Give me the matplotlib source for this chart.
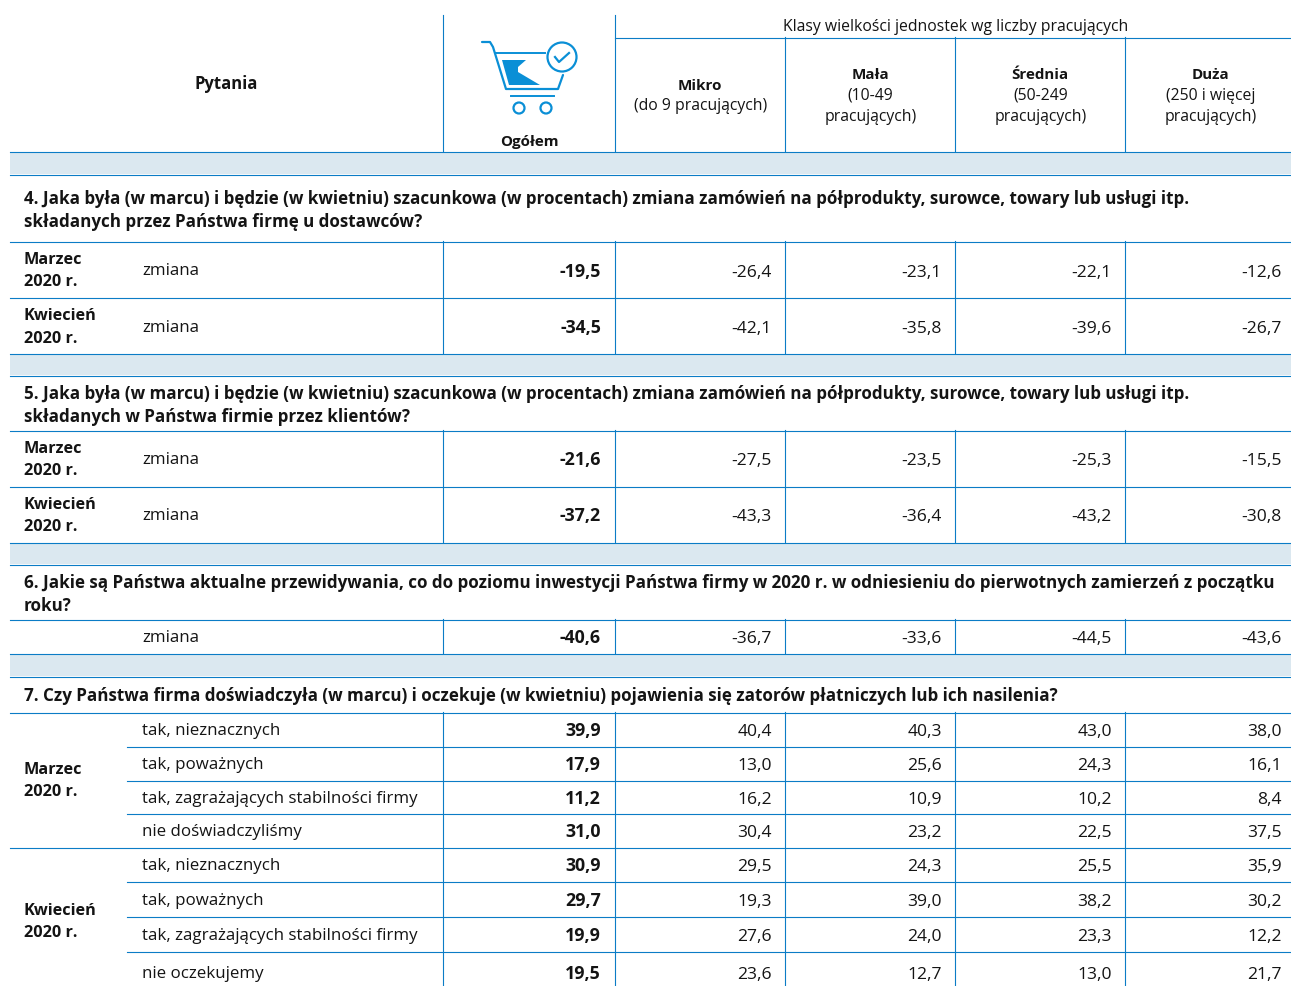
import matplotlib
matplotlib.use('Agg')
import matplotlib.pyplot as plt
import matplotlib.patches as mpatches

plt.rcParams['font.family'] = ['Open Sans', 'DejaVu Sans']

LINE = '#0b7cc6'
BAND = '#dbe8f0'
TXT = '#141414'

# data
size_heads = ['Mikro', 'Mała', 'Średnia', 'Duża']
size_subs = [['(do 9 pracujących)'], ['(10-49', 'pracujących)'], ['(50-249', 'pracujących)'], ['(250 i więcej', 'pracujących)']]

q4 = ['4. Jaka była (w marcu) i będzie (w kwietniu) szacunkowa (w procentach) zmiana zamówień na półprodukty, surowce, towary lub usługi itp.',
      'składanych przez Państwa firmę u dostawców?']
q5 = ['5. Jaka była (w marcu) i będzie (w kwietniu) szacunkowa (w procentach) zmiana zamówień na półprodukty, surowce, towary lub usługi itp.',
      'składanych w Państwa firmie przez klientów?']
q6 = ['6. Jakie są Państwa aktualne przewidywania, co do poziomu inwestycji Państwa firmy w 2020 r. w odniesieniu do pierwotnych zamierzeń z początku',
      'roku?']
q7 = ['7. Czy Państwa firma doświadczyła (w marcu) i oczekuje (w kwietniu) pojawienia się zatorów płatniczych lub ich nasilenia?']

row_labels = ['zmiana', 'zmiana', 'zmiana', 'zmiana', 'zmiana',
              'tak, nieznacznych', 'tak, poważnych', 'tak, zagrażających stabilności firmy', 'nie doświadczyliśmy',
              'tak, nieznacznych', 'tak, poważnych', 'tak, zagrażających stabilności firmy', 'nie oczekujemy']
ogolem = ['-19,5', '-34,5', '-21,6', '-37,2', '-40,6', '39,9', '17,9', '11,2', '31,0', '30,9', '29,7', '19,9', '19,5']
mikro = ['-26,4', '-42,1', '-27,5', '-43,3', '-36,7', '40,4', '13,0', '16,2', '30,4', '29,5', '19,3', '27,6', '23,6']
mala = ['-23,1', '-35,8', '-23,5', '-36,4', '-33,6', '40,3', '25,6', '10,9', '23,2', '24,3', '39,0', '24,0', '12,7']
srednia = ['-22,1', '-39,6', '-25,3', '-43,2', '-44,5', '43,0', '24,3', '10,2', '22,5', '25,5', '38,2', '23,3', '13,0']
duza = ['-12,6', '-26,7', '-15,5', '-30,8', '-43,6', '38,0', '16,1', '8,4', '37,5', '35,9', '30,2', '12,2', '21,7']

# layout in pixels
label_y = [275, 332, 464, 520, 642, 735, 769, 803, 836, 870, 905, 940, 978]
value_y = [277, 333, 465, 521, 643, 736, 770, 804, 837, 871, 906, 941, 979]
col_x = [601, 772, 942, 1112, 1282]
vlines_x = [443, 615, 785, 955, 1125]
head_x = [700, 870, 1040, 1210]
full_lines = [152, 175, 242, 298, 354, 376, 431, 487, 543, 565, 620, 654, 677, 713, 848]
part_lines = [747, 781, 814, 882, 917, 952]
bands = [(153, 175), (355, 376), (544, 565), (655, 677)]
table_spans = [(242, 354), (431, 543), (620, 654), (713, 987)]

fig = plt.figure(figsize=(12.91, 9.87), dpi=100)
ax = fig.add_axes([0, 0, 1, 1])
ax.set_xlim(0, 1291)
ax.set_ylim(987, 0)
ax.axis('off')

for top, bot in bands:
    ax.add_patch(mpatches.Rectangle((10, top), 1281, bot - top, color=BAND, lw=0))
for y in full_lines:
    ax.plot([10, 1291], [y + 0.5, y + 0.5], color=LINE, lw=0.8)
for y in part_lines:
    ax.plot([127, 1291], [y + 0.5, y + 0.5], color=LINE, lw=0.8)
ax.plot([615, 1291], [38.5, 38.5], color=LINE, lw=0.8)
for x in vlines_x:
    ax.plot([x - 0.5, x - 0.5], [16 if x < 700 else 38, 152], color=LINE, lw=0.8)
    for top, bot in table_spans:
        ax.plot([x - 0.5, x - 0.5], [top, bot], color=LINE, lw=0.8)


def put(x, y, s, bold=False, ha='left', size=12.2):
    ax.text(x, y, s, ha=ha, va='baseline', fontsize=size, color=TXT, fontweight='bold' if bold else 'normal')


put(226, 89, 'Pytania', True, 'center', 12.0)
put(529.5, 146, 'Ogółem', True, 'center', 10.9)
put(955.5, 31, 'Klasy wielkości jednostek wg liczby pracujących', False, 'center', 11.3)
for i, h in enumerate(size_heads):
    subs = size_subs[i]
    if len(subs) == 1:
        put(head_x[i], 90, h, True, 'center', 10.9)
        put(head_x[i] + 0.5, 110, subs[0], False, 'center', 11.3)
    else:
        put(head_x[i], 79, h, True, 'center', 10.9)
        put(head_x[i] + 0.5, 100, subs[0], False, 'center', 11.3)
        put(head_x[i] + 0.5, 121, subs[1], False, 'center', 11.3)

for lines, ys in [(q4, [204, 227]), (q5, [399, 422]), (q6, [588, 611]), (q7, [701])]:
    for s, y in zip(lines, ys):
        put(24, y, s, True, size=12.25)

for s, y in [('Marzec', 264), ('2020 r.', 286), ('Kwiecień', 320), ('2020 r.', 343),
             ('Marzec', 453), ('2020 r.', 475), ('Kwiecień', 509), ('2020 r.', 531),
             ('Marzec', 774), ('2020 r.', 796), ('Kwiecień', 915), ('2020 r.', 937)]:
    put(23.5, y, s, True, size=11.7)

for i, s in enumerate(row_labels):
    put(142, label_y[i], s, size=12.2)
    put(col_x[0], value_y[i], ogolem[i], True, 'right', 12.8)
    for x, col in zip(col_x[1:], [mikro, mala, srednia, duza]):
        put(x, value_y[i], col[i], False, 'right', 12.6)

# cart icon
C = '#0a8fd6'
ax.plot([482, 490, 493, 506, 558, 563], [43, 43, 48, 90, 90, 76], color=C, lw=1.6, solid_capstyle='round')
ax.plot([496, 545], [54, 54], color=C, lw=1.4)
ax.plot([511, 554], [97, 97], color=C, lw=1.4)
ax.add_patch(mpatches.Polygon([[502, 61], [526, 61], [518, 68], [518, 73], [540, 86], [509, 86]], color=C, lw=0))
ax.add_patch(mpatches.Circle((519, 109), 5.5, fill=False, ec=C, lw=1.6))
ax.add_patch(mpatches.Circle((546, 109), 5.5, fill=False, ec=C, lw=1.6))
ax.add_patch(mpatches.Circle((562, 58), 14.5, fill=False, ec=C, lw=1.6))
ax.plot([555, 559, 569], [58, 63, 54], color=C, lw=1.6)

fig.savefig('out.png', dpi=100)
